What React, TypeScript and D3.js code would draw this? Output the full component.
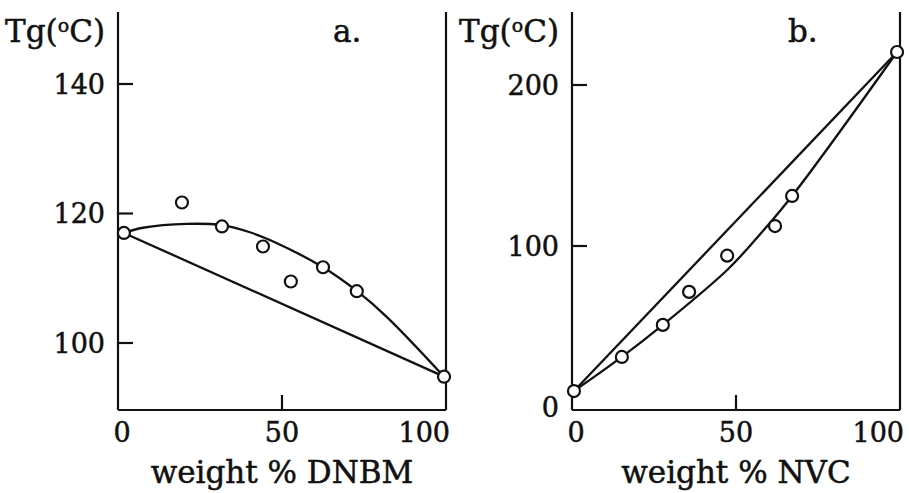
import React from 'react';
import * as d3 from 'd3';

// panel a: Tg vs weight % DNBM
const aPointX = [1.8, 19.5, 31.7, 44.2, 52.7, 62.5, 72.8, 99.4];
const aPointY = [117, 121.7, 118, 114.9, 109.5, 111.7, 108, 94.8];
const aCurveX = [1.8, 7.6, 21, 31.7, 40.2, 46.3, 62.5, 72.9, 82, 99.4];
const aCurveY = [117, 117.8, 118.4, 118.2, 117.1, 115.9, 111.7, 108, 104, 94.8];
const aLineX = [1.8, 99.4];
const aLineY = [117, 94.8];
const aYTicks = [100, 120, 140];

// panel b: Tg vs weight % NVC
const bPointX = [0.6, 15.2, 27.7, 35.7, 47.3, 61.9, 67.1, 99.1];
const bPointY = [9.9, 31.1, 51, 71.5, 94, 112.4, 131.1, 220.5];
const bCurveX = [0.6, 15.2, 27.7, 47.3, 55.8, 67.1, 99.1];
const bCurveY = [9.9, 31.1, 51, 85.1, 103.7, 131.1, 220.5];
const bLineX = [0.6, 99.1];
const bLineY = [9.9, 220.5];
const bYTicks = [0, 100, 200];

const xTicks = [0, 50, 100];

const FONT = '"DejaVu Serif", serif';

type PanelProps = {
  left: number;
  right: number;
  yDomain: [number, number];
  yRange: [number, number];
  yTicks: number[];
  pointX: number[];
  pointY: number[];
  curveX: number[];
  curveY: number[];
  lineX: number[];
  lineY: number[];
  letter: string;
  letterX: number;
  xTitle: string;
};

const top = 12;
const bottom = 410;
const ink = '#111';

const Panel = (p: PanelProps) => {
  const x = d3.scaleLinear().domain([0, 100]).range([p.left, p.right]);
  const y = d3.scaleLinear().domain(p.yDomain).range(p.yRange);
  const line = d3
    .line<[number, number]>()
    .x((d) => x(d[0]))
    .y((d) => y(d[1]));
  const curve = d3
    .line<[number, number]>()
    .x((d) => x(d[0]))
    .y((d) => y(d[1]))
    .curve(d3.curveCatmullRom.alpha(0.5));

  const curvePts = p.curveX.map((v, i) => [v, p.curveY[i]] as [number, number]);
  const linePts = p.lineX.map((v, i) => [v, p.lineY[i]] as [number, number]);
  const x0 = x(0);
  const x1 = x(100);

  return (
    <g fontFamily={FONT} fill={ink}>
      {/* frame: left, right, bottom */}
      <line x1={x0} y1={top} x2={x0} y2={bottom} stroke={ink} strokeWidth={2.2} />
      <line x1={x1} y1={top} x2={x1} y2={bottom} stroke={ink} strokeWidth={2.2} />
      <line x1={x0} y1={bottom} x2={x1} y2={bottom} stroke={ink} strokeWidth={2.2} />

      <g stroke={ink} strokeWidth={0.5}>
        {p.yTicks.map((t) => (
          <text key={t} x={x0 - 13} y={y(t)} dy="0.36em" textAnchor="end" fontSize={27}>
            {t}
          </text>
        ))}
        {xTicks.map((t) => (
          <text
            key={t}
            x={t === 50 ? x(t) : x(t) + 4}
            y={442}
            textAnchor={t === 100 ? 'end' : 'middle'}
            fontSize={27}
          >
            {t}
          </text>
        ))}
        <text x={x0 - 13} y={42} textAnchor="end" fontSize={31}>
          Tg(
          <tspan fontSize={19} dy={-10}>
            o
          </tspan>
          <tspan dy={10}>C)</tspan>
        </text>
        <text x={p.letterX} y={42} fontSize={31}>
          {p.letter}
        </text>
        <text x={x(50)} y={483} textAnchor="middle" fontSize={31}>
          {p.xTitle}
        </text>
      </g>

      {p.yTicks
        .filter((t) => y(t) < bottom - 8)
        .map((t) => (
          <line key={t} x1={x0} y1={y(t)} x2={x0 + 15} y2={y(t)} stroke={ink} strokeWidth={2.2} />
        ))}
      <line x1={x(50)} y1={bottom} x2={x(50)} y2={bottom - 15} stroke={ink} strokeWidth={2.2} />

      <path d={line(linePts) || ''} fill="none" stroke={ink} strokeWidth={2.3} />
      <path d={curve(curvePts) || ''} fill="none" stroke={ink} strokeWidth={2.3} />

      {p.pointX.map((v, i) => (
        <circle key={i} cx={x(v)} cy={y(p.pointY[i])} r={6} fill="#fff" stroke={ink} strokeWidth={2.2} />
      ))}
    </g>
  );
};

export default function App() {
  return (
    <svg
      width={910}
      height={493}
      style={{ position: 'absolute', left: 0, top: 0, background: '#fff' }}
    >
      <rect width={910} height={493} fill="#fff" />
      <Panel
        left={118}
        right={446}
        yDomain={[100, 140]}
        yRange={[343, 84]}
        yTicks={aYTicks}
        pointX={aPointX}
        pointY={aPointY}
        curveX={aCurveX}
        curveY={aCurveY}
        lineX={aLineX}
        lineY={aLineY}
        letter="a."
        letterX={333}
        xTitle="weight % DNBM"
      />
      <Panel
        left={572}
        right={900}
        yDomain={[0, 200]}
        yRange={[407, 85]}
        yTicks={bYTicks}
        pointX={bPointX}
        pointY={bPointY}
        curveX={bCurveX}
        curveY={bCurveY}
        lineX={bLineX}
        lineY={bLineY}
        letter="b."
        letterX={788}
        xTitle="weight % NVC"
      />
    </svg>
  );
}
